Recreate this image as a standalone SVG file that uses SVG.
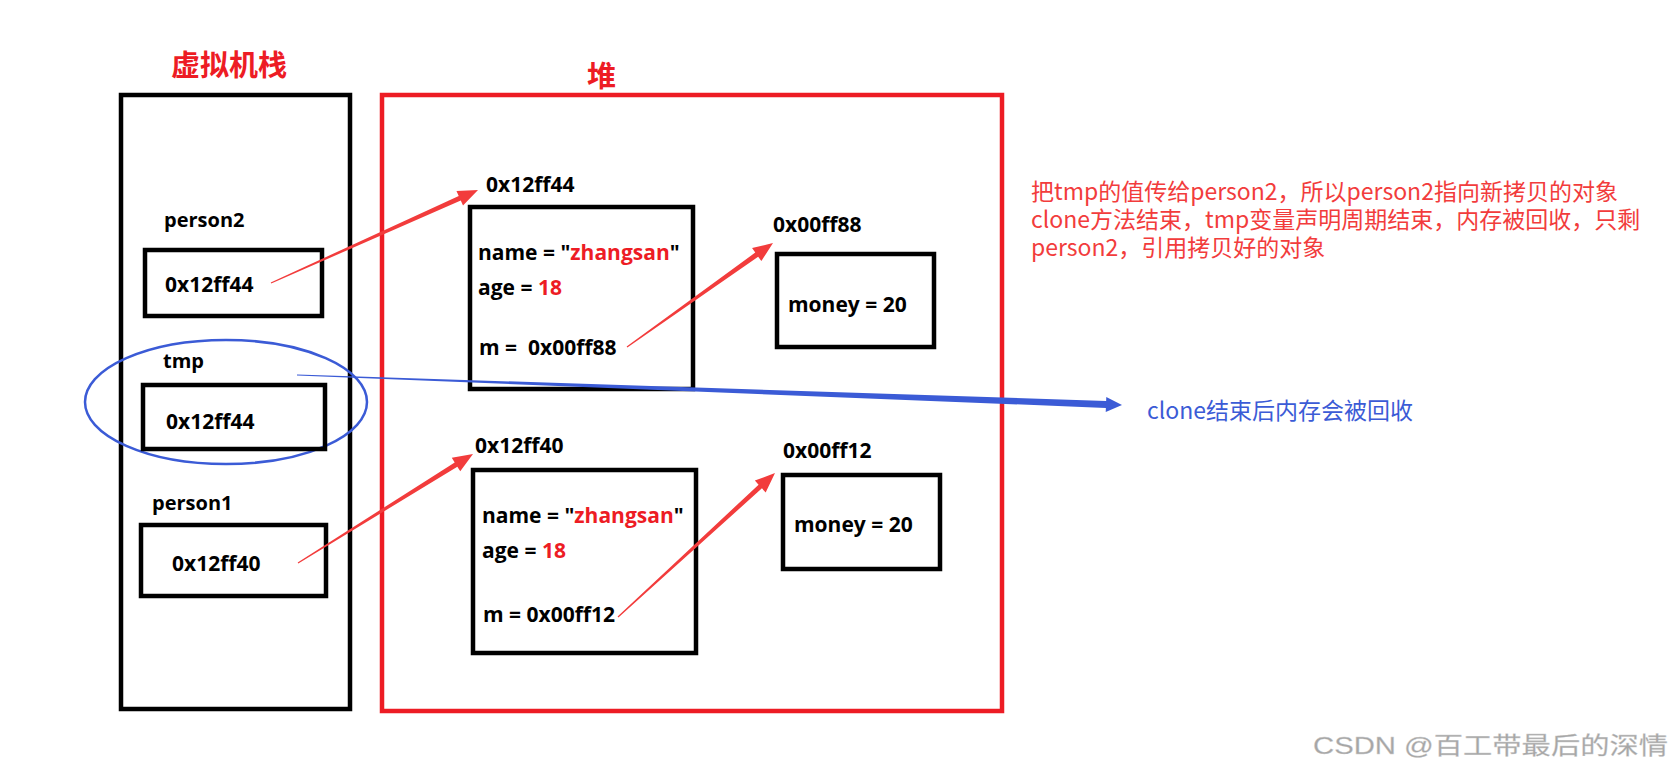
<svg xmlns="http://www.w3.org/2000/svg" width="1676" height="772" viewBox="0 0 1676 772">
  <style>
    .box { fill: none; stroke: #000; stroke-width: 4.5; }
    .lbl { font-family: "Open Sans", "Noto Sans CJK SC", sans-serif; font-weight: bold; font-size: 20px; fill: #000; }
    .val { font-family: "Open Sans", "Noto Sans CJK SC", sans-serif; font-weight: bold; font-size: 21px; fill: #000; }
    .hl { fill: #ED1C24; }
    .title { font-family: "Noto Sans CJK SC", sans-serif; font-weight: bold; font-size: 29px; fill: #ED1C24; }
    .note { font-family: "Noto Sans CJK SC", sans-serif; font-size: 23px; fill: #F23C3C; }
    .bnote { font-family: "Noto Sans CJK SC", sans-serif; font-size: 23px; fill: #3B5BD6; }
    .red-arrow { fill: #F23C3C; }
    .blue-arrow { fill: #3B5BD6; }
  </style>
  <rect width="1676" height="772" fill="#fff"/>

  <g id="stack">
    <text class="title" x="171" y="76">虚拟机栈</text>
    <rect class="box" x="121" y="95" width="229" height="614"/>
  </g>

  <g id="heap">
    <text class="title" x="587" y="87">堆</text>
    <rect x="382" y="95" width="620" height="616" fill="none" stroke="#ED1C24" stroke-width="4.5"/>
  </g>

  <g id="person2">
    <text class="lbl" x="164" y="227">person2</text>
    <rect class="box" x="145" y="250" width="177" height="66"/>
    <text class="val" x="165" y="292">0x12ff44</text>
  </g>

  <g id="tmp">
    <ellipse cx="226" cy="402" rx="141" ry="62" fill="none" stroke="#3B5BD6" stroke-width="2.5"/>
    <text class="lbl" x="163" y="368">tmp</text>
    <rect class="box" x="143" y="385" width="182" height="64"/>
    <text class="val" x="166" y="429">0x12ff44</text>
  </g>

  <g id="person1">
    <text class="lbl" x="152" y="510">person1</text>
    <rect class="box" x="141" y="525" width="185" height="71"/>
    <text class="val" x="172" y="571">0x12ff40</text>
  </g>

  <g id="obj-12ff44">
    <text class="val" x="486" y="192">0x12ff44</text>
    <rect class="box" x="470" y="207" width="223" height="182"/>
    <text class="val" x="478" y="260">name = "<tspan class="hl">zhangsan</tspan>"</text>
    <text class="val" x="478" y="295">age = <tspan class="hl">18</tspan></text>
    <text class="val" x="479" y="355" xml:space="preserve">m =  0x00ff88</text>
  </g>

  <g id="obj-00ff88">
    <text class="val" x="773" y="232">0x00ff88</text>
    <rect class="box" x="777" y="254" width="157" height="93"/>
    <text class="val" x="788" y="312">money = 20</text>
  </g>

  <g id="obj-12ff40">
    <text class="val" x="475" y="453">0x12ff40</text>
    <rect class="box" x="473" y="470" width="223" height="183"/>
    <text class="val" x="482" y="523">name = "<tspan class="hl">zhangsan</tspan>"</text>
    <text class="val" x="482" y="558">age = <tspan class="hl">18</tspan></text>
    <text class="val" x="483" y="622">m = 0x00ff12</text>
  </g>

  <g id="obj-00ff12">
    <text class="val" x="783" y="458">0x00ff12</text>
    <rect class="box" x="783" y="475" width="157" height="94"/>
    <text class="val" x="794" y="532">money = 20</text>
  </g>

  <g id="connectors">
    <polygon class="red-arrow" points="271.25,283.55 460.77,200.48 463.03,205.50 478,190 456.47,190.90 458.73,195.92 270.75,282.45"/>
    <polygon class="red-arrow" points="627.35,347.49 758.16,256.64 761.35,261.12 773,243 752.07,248.08 755.26,252.56 626.65,346.51"/>
    <polygon class="red-arrow" points="298.32,563.51 457.34,466.69 460.25,471.36 473,454 451.79,457.78 454.70,462.45 297.68,562.49"/>
    <polygon class="red-arrow" points="618.41,617.44 761.95,488.36 765.67,492.42 775,473 754.85,480.62 758.57,484.68 617.59,616.56"/>
    <polygon class="blue-arrow" points="296.98,375.60 1105.87,407.92 1105.74,411.92 1122,405 1106.28,396.92 1106.15,400.92 297.02,374.40"/>
  </g>

  <g id="notes">
    <text class="note"><tspan x="1031" y="200">把tmp的值传给person2，所以person2指向新拷贝的对象</tspan><tspan x="1031" y="228">clone方法结束，tmp变量声明周期结束，内存被回收，只剩</tspan><tspan x="1031" y="256">person2，引用拷贝好的对象</tspan></text>
    <text class="bnote" x="1147" y="419">clone结束后内存会被回收</text>
  </g>

  <text x="1313" y="754" font-family="Liberation Sans, Noto Sans CJK SC, sans-serif" font-size="24" fill="#A6A6A6" stroke="#D0D0D0" stroke-width="0.3" textLength="355" lengthAdjust="spacingAndGlyphs">CSDN @百工带最后的深情</text>
</svg>
